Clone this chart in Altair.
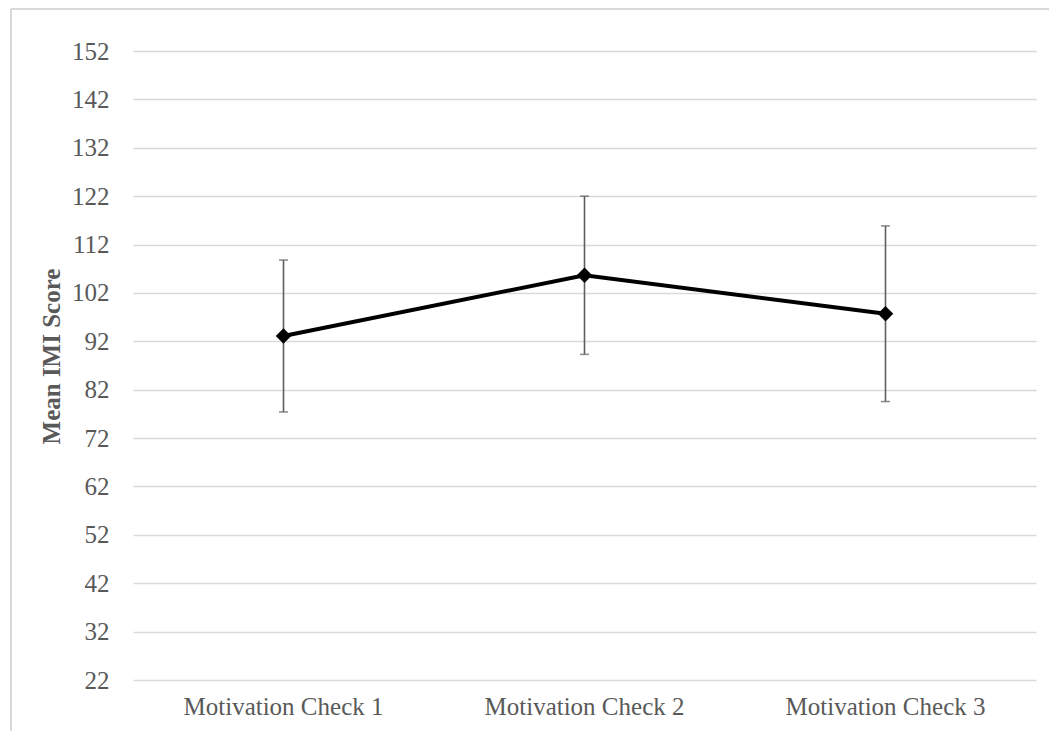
import altair as alt
import pandas as pd

# Mean IMI score at each motivation check, with error bar half-widths
checks = ["Motivation Check 1", "Motivation Check 2", "Motivation Check 3"]
means = [93.1, 105.65, 97.7]
errors = [15.7, 16.35, 18.15]
y_ticks = [22, 32, 42, 52, 62, 72, 82, 92, 102, 112, 122, 132, 142, 152]

df = pd.DataFrame({"check": checks, "mean": means, "err": errors})
df["lo"] = df["mean"] - df["err"]
df["hi"] = df["mean"] + df["err"]

W, H = 903, 629
FONT = "Liberation Serif"
TEXT = "#595959"
GRID = "#d9d9d9"

x_enc = alt.X(
    "check:N",
    sort=checks,
    scale=alt.Scale(type="band", paddingInner=0, paddingOuter=0),
    axis=alt.Axis(
        title=None,
        labelAngle=0,
        labelFont=FONT,
        labelFontSize=25,
        labelColor=TEXT,
        labelPadding=14,
        labelLimit=500,
        domain=False,
        ticks=False,
        grid=False,
    ),
)
y_scale = alt.Scale(domain=[22, 152], nice=False, zero=False)

base = alt.Chart(df).encode(x=x_enc)

grid_axis = alt.Axis(
    values=y_ticks,
    title="Mean IMI Score",
    titleFont=FONT,
    titleFontSize=25,
    titleFontWeight="bold",
    titleColor=TEXT,
    titleX=-82,
    titleY=305,
    titleAngle=-90,
    titleAlign="center",
    titleBaseline="middle",
    labelFont=FONT,
    labelFontSize=25,
    labelColor=TEXT,
    labelPadding=24,
    domain=False,
    ticks=False,
    grid=True,
    gridColor=GRID,
    gridWidth=1.5,
)

bars = base.mark_rule(color="#5f5f5f", strokeWidth=1.6).encode(
    y=alt.Y("lo:Q", scale=y_scale, axis=grid_axis),
    y2="hi:Q",
)
caps_hi = base.mark_tick(color="#5f5f5f", thickness=1.6, size=9, orient="horizontal").encode(
    y=alt.Y("hi:Q", scale=y_scale)
)
caps_lo = base.mark_tick(color="#5f5f5f", thickness=1.6, size=9, orient="horizontal").encode(
    y=alt.Y("lo:Q", scale=y_scale)
)
line = base.mark_line(color="black", strokeWidth=4).encode(
    y=alt.Y("mean:Q", scale=y_scale)
)
points = base.mark_point(shape="diamond", filled=True, size=240, color="black", opacity=1).encode(
    y=alt.Y("mean:Q", scale=y_scale)
)

# light frame around the figure
frame_left = alt.Chart(df).mark_rule(color=GRID, strokeWidth=2).encode(
    x=alt.value(-122), y=alt.value(-42), y2=alt.value(H + 60)
)
frame_top = alt.Chart(df).mark_rule(color=GRID, strokeWidth=2).encode(
    x=alt.value(-122), x2=alt.value(W + 20), y=alt.value(-42)
)

chart = (
    alt.layer(bars, caps_hi, caps_lo, line, points, frame_left, frame_top)
    .properties(
        width=W,
        height=H,
        autosize=alt.AutoSizeParams(type="none"),
        padding={"left": 133, "top": 51, "right": 13, "bottom": 51},
        background="white",
    )
    .configure_view(stroke=None)
)

chart.save("out.html", embed_options={"renderer": "svg", "actions": False})
